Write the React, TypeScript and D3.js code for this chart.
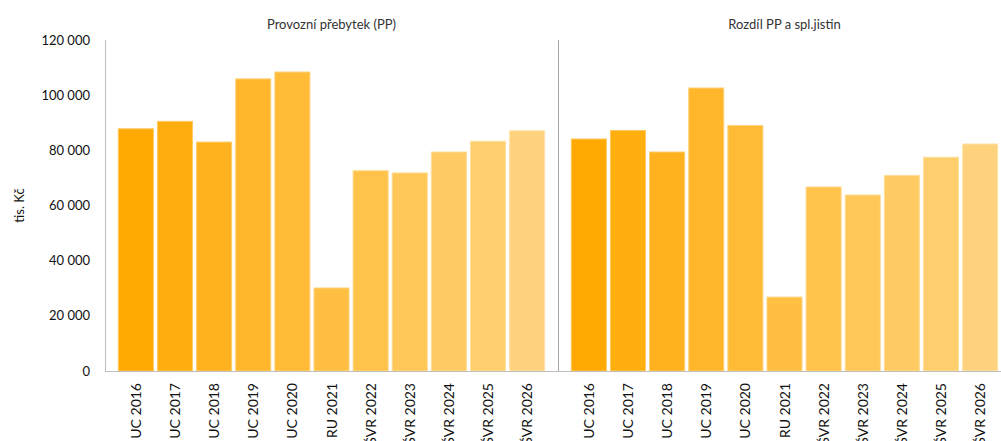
import React from "react";
import * as d3 from "d3";

// Budget categories (x axis)
const categories = [
  "UC 2016", "UC 2017", "UC 2018", "UC 2019", "UC 2020", "RU 2021",
  "ŠVR 2022", "ŠVR 2023", "ŠVR 2024", "ŠVR 2025", "ŠVR 2026",
];

// Provozní přebytek (PP), tis. Kč
const provozniPrebytek = [
  87800, 90500, 83000, 105900, 108400, 30100, 72600, 71800, 79400, 83300, 87100,
];

// Rozdíl PP a splátek jistin, tis. Kč
const rozdilPP = [
  84100, 87200, 79400, 102600, 89000, 26800, 66700, 63800, 70900, 77500, 82300,
];

const panelTitles = ["Provozní přebytek (PP)", "Rozdíl PP a spl.jistin"];
const yTicks = [0, 20000, 40000, 60000, 80000, 100000, 120000];
const yLabel = "tis. Kč";

// One fill per category, from deep orange to pale
const barColors = [
  "#FFA902", "#FFAE10", "#FFB21D", "#FFB62A", "#FFBA36", "#FFBF42",
  "#FFC34C", "#FFC757", "#FFCB62", "#FFCF6E", "#FFD37E",
];

const W = 1001;
const H = 441;
const top = 40;
const bottom = 371;
const FONT = "Lato, 'Open Sans', sans-serif";

const loc = d3.formatLocale({ decimal: ",", thousands: "\u00a0", grouping: [3], currency: ["", " Kč"] });
const fmt = loc.format(",.0f");

function Panel({ values, title, x0, x1 }: { values: number[]; title: string; x0: number; x1: number }) {
  const x = d3.scaleBand<string>().domain(categories).range([x0, x1]).paddingInner(0.105).paddingOuter(0.341);
  const y = d3.scaleLinear().domain([0, 120000]).range([bottom, top]);
  return (
    <g>
      <text x={(x0 + x1) / 2} y={29} textAnchor="middle" fontSize={13} fill="#333" fontFamily={FONT}>
        {title}
      </text>
      {values.map((v, i) => {
        const c = barColors[i];
        const edge = d3.interpolateRgb(c, "#ffffff")(0.35);
        return (
          <rect
            key={categories[i]}
            x={x(categories[i])}
            y={y(v)}
            width={x.bandwidth()}
            height={y(0) - y(v)}
            fill={c}
            stroke={edge}
            strokeWidth={1}
          />
        );
      })}
      {categories.map((c) => (
        <text
          key={c}
          transform={`translate(${(x(c) as number) + x.bandwidth() / 2 + 5},${383}) rotate(-90)`}
          textAnchor="end"
          fontSize={14}
          fill="#111"
          fontFamily={FONT}
        >
          {c}
        </text>
      ))}
    </g>
  );
}

export default function App() {
  const y = d3.scaleLinear().domain([0, 120000]).range([bottom, top]);
  return (
    <svg width={W} height={H} style={{ position: "absolute", left: 0, top: 0, background: "#fff" }}>
      <rect width={W} height={H} fill="#fff" />
      <Panel values={provozniPrebytek} title={panelTitles[0]} x0={105} x1={558} />
      <Panel values={rozdilPP} title={panelTitles[1]} x0={558} x1={1011} />
      {/* axes */}
      <line x1={105.5} x2={105.5} y1={top} y2={bottom} stroke="#BFBFBF" strokeWidth={1} />
      <line x1={558.5} x2={558.5} y1={top} y2={bottom} stroke="#A6A6A6" strokeWidth={1} />
      <line x1={105} x2={W} y1={bottom + 0.5} y2={bottom + 0.5} stroke="#BFBFBF" strokeWidth={1} />
      {yTicks.map((t) => (
        <text key={t} x={90} y={y(t)} dy="0.35em" textAnchor="end" fontSize={13} fill="#111" fontFamily={FONT}>
          {fmt(t)}
        </text>
      ))}
      <text
        transform={`translate(${24},${(top + bottom) / 2}) rotate(-90)`}
        textAnchor="middle"
        fontSize={13}
        fill="#111"
        fontFamily={FONT}
      >
        {yLabel}
      </text>
    </svg>
  );
}
